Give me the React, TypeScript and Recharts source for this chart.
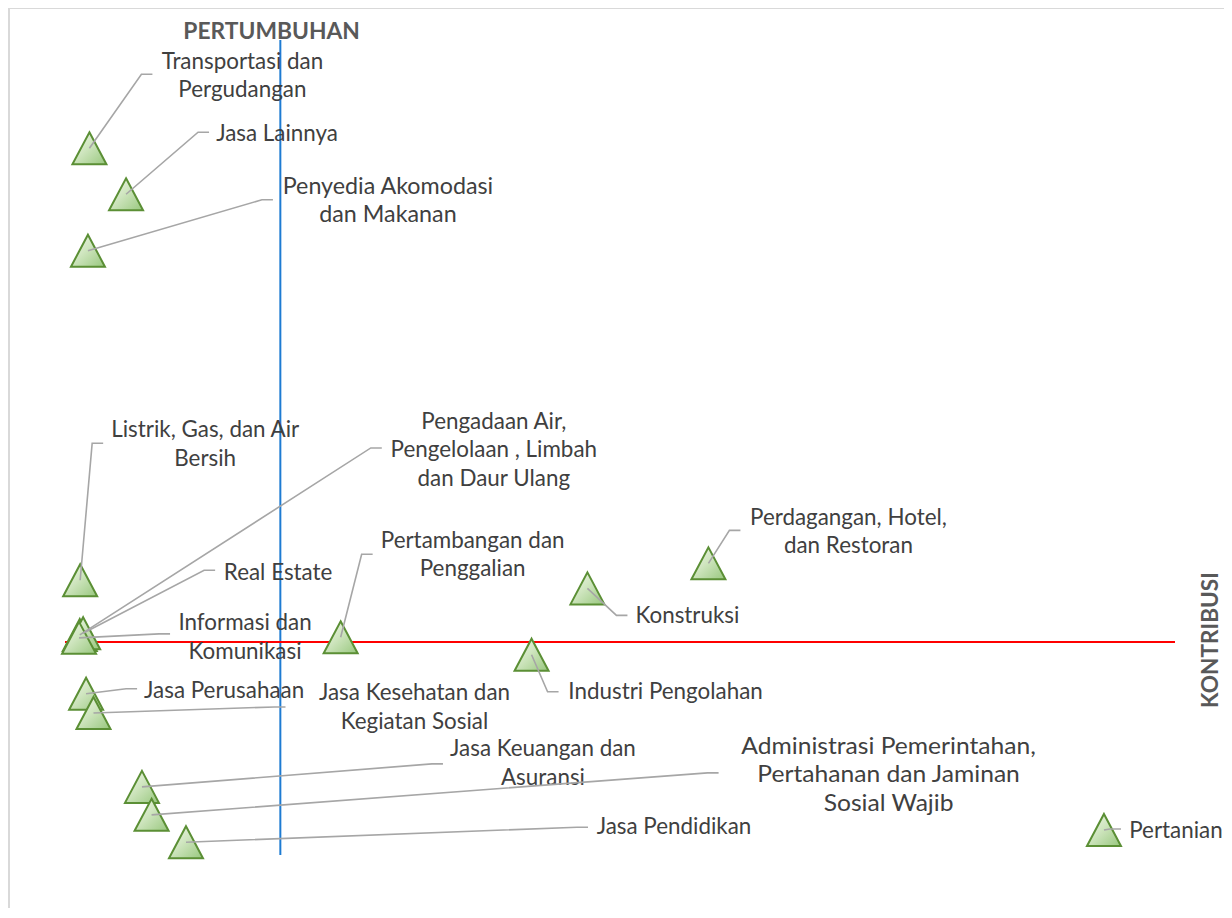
import React from 'react'
import { ScatterChart, Scatter, XAxis, YAxis, ReferenceLine } from 'recharts'

// sektor (kategori)
const sectors = [
  'Transportasi dan Pergudangan',
  'Jasa Lainnya',
  'Penyedia Akomodasi dan Makanan',
  'Listrik, Gas, dan Air Bersih',
  'Pengadaan Air, Pengelolaan , Limbah dan Daur Ulang',
  'Real Estate',
  'Informasi dan Komunikasi',
  'Pertambangan dan Penggalian',
  'Konstruksi',
  'Industri Pengolahan',
  'Perdagangan, Hotel, dan Restoran',
  'Jasa Perusahaan',
  'Jasa Kesehatan dan Kegiatan Sosial',
  'Jasa Keuangan dan Asuransi',
  'Administrasi Pemerintahan, Pertahanan dan Jaminan Sosial Wajib',
  'Jasa Pendidikan',
  'Pertanian',
]

// kontribusi (%) - sumbu X
const kontribusi = [0.66, 1.65, 0.62, 0.41, 0.4, 0.49, 0.38, 7.45, 14.12, 12.61, 17.39, 0.57, 0.77, 2.08, 2.34, 3.27, 28.08]

// pertumbuhan (%) - sumbu Y
const pertumbuhan = [12.14, 11.35, 10.38, 4.72, 3.78, 3.81, 3.73, 3.74, 4.58, 3.44, 5.01, 2.77, 2.44, 1.17, 0.69, 0.22, 0.43]

// garis rata-rata
const avgKontribusi = 5.82
const avgPertumbuhan = 3.66

// teks label per baris
const labelLines = [
  ['Transportasi dan', 'Pergudangan'],
  ['Jasa Lainnya'],
  ['Penyedia Akomodasi', 'dan Makanan'],
  ['Listrik, Gas, dan Air', 'Bersih'],
  ['Pengadaan Air,', 'Pengelolaan , Limbah', 'dan Daur Ulang'],
  ['Real Estate'],
  ['Informasi dan', 'Komunikasi'],
  ['Pertambangan dan', 'Penggalian'],
  ['Konstruksi'],
  ['Industri Pengolahan'],
  ['Perdagangan, Hotel,', 'dan Restoran'],
  ['Jasa Perusahaan'],
  ['Jasa Kesehatan dan', 'Kegiatan Sosial'],
  ['Jasa Keuangan dan', 'Asuransi'],
  ['Administrasi Pemerintahan,', 'Pertahanan dan Jaminan', 'Sosial Wajib'],
  ['Jasa Pendidikan'],
  ['Pertanian'],
]

// posisi label relatif ke titik: pusat teks (tx, ty), ujung garis penunjuk (ex, ey), skala lebar (sx)
const labelPos = [
  { tx: 153, ty: -73, ex: 63, ey: -74 },
  { tx: 151, ty: -61, ex: 83, ey: -62 },
  { tx: 300, ty: -50, ex: 185, ey: -51, sx: 1.04 },
  { tx: 125, ty: -136, ex: 23, ey: -137 },
  { tx: 414, ty: -185, ex: 302, ey: -187 },
  { tx: 195, ty: -61, ex: 132, ey: -63 },
  { tx: 166, ty: -1, ex: 91, ey: -4 },
  { tx: 132, ty: -83, ex: 32, ey: -83 },
  { tx: 100, ty: 27, ex: 40, ey: 27 },
  { tx: 134, ty: 37, ex: 27, ey: 37 },
  { tx: 140, ty: -32, ex: 32, ey: -33 },
  { tx: 138, ty: -3, ex: 51, ey: -5 },
  { tx: 321, ty: -6, ex: 192, ey: -6 },
  { tx: 401, ty: -24, ex: 301, ey: -23 },
  { tx: 737, ty: -40, ex: 567, ey: -42, sx: 1.1 },
  { tx: 488, ty: -16, ex: 402, ey: -15 },
  { tx: 72, ty: 1, ex: 17, ey: -1 },
]

const data = sectors.map((name, i) => ({ name, x: kontribusi[i], y: pertumbuhan[i], i }))

const FONT = 'Lato, "Open Sans", sans-serif'
const FS = 22.4
const LINE_H = 28.5

function Triangle(props: any) {
  const { cx, cy } = props
  if (cx == null || cy == null) return null
  const d = `M${cx},${cy - 16}L${cx + 17},${cy + 16}L${cx - 17},${cy + 16}Z`
  return <path d={d} fill="url(#triFill)" stroke="#5B8F35" strokeWidth={2} strokeLinejoin="miter" />
}

function SectorLabel(props: any) {
  const { cx, cy, payload } = props
  if (cx == null || cy == null) return null
  const p: any = labelPos[payload.i]
  const lines = labelLines[payload.i]
  const ex = cx + p.ex
  const ey = cy + p.ey
  const tx = cx + p.tx
  const ty = cy + p.ty
  const sx = p.sx || 1
  return (
    <g>
      <path d={`M${cx},${cy}L${ex - 11},${ey}L${ex},${ey}`} fill="none" stroke="#A6A6A6" strokeWidth={1.6} />
      <g transform={`translate(${tx},${ty}) scale(${sx},1)`}>
        <text textAnchor="middle" fontFamily={FONT} fontSize={FS} fill="#404040">
          {lines.map((l, k) => (
            <tspan key={k} x={0} y={(k - (lines.length - 1) / 2) * LINE_H + 7.5}>
              {l}
            </tspan>
          ))}
        </text>
      </g>
    </g>
  )
}

export default function App() {
  return (
    <div style={{ marginTop: -8 }}>
      <div style={{ height: 8, overflow: 'hidden' }}>
        <svg width={200} height={8}>
          <text x={52} y={1} fontFamily={FONT} fontSize={30} fill="#000">g</text>
        </svg>
      </div>
      <div
        style={{
          position: 'relative',
          width: 1224,
          height: 900,
          boxSizing: 'border-box',
          borderTop: '1px solid #D9D9D9',
          borderLeft: '2px solid #D9D9D9',
          background: '#fff',
        }}
      >
        <ScatterChart width={1222} height={899} margin={{ top: 31, right: 57, bottom: 53, left: 55 }}>
          <defs>
            <linearGradient id="triFill" x1="0" y1="0" x2="1" y2="1">
              <stop offset="0%" stopColor="#F2F8EC" />
              <stop offset="45%" stopColor="#D0E6C0" />
              <stop offset="100%" stopColor="#98C77E" />
            </linearGradient>
          </defs>
          <XAxis type="number" dataKey="x" domain={[0, 30]} hide />
          <YAxis type="number" dataKey="y" domain={[0, 14]} hide />
          <ReferenceLine x={avgKontribusi} stroke="#1E7BD2" strokeWidth={2} />
          <ReferenceLine y={avgPertumbuhan} stroke="#FF0000" strokeWidth={2} />
          <Scatter data={data} shape={<Triangle />} isAnimationActive={false} />
          <Scatter data={data} shape={<SectorLabel />} isAnimationActive={false} />
        </ScatterChart>
        <svg width={1222} height={899} style={{ position: 'absolute', left: 0, top: 0, pointerEvents: 'none' }}>
          <text x={261.6} y={30.3} textAnchor="middle" fontFamily={FONT} fontWeight="bold" fontSize={22.8} fill="#595959">
            PERTUMBUHAN
          </text>
          <text
            transform="translate(1207.7,631) rotate(-90)"
            textAnchor="middle"
            fontFamily={FONT}
            fontWeight="bold"
            fontSize={22.6}
            fill="#595959"
          >
            KONTRIBUSI
          </text>
        </svg>
      </div>
    </div>
  )
}
